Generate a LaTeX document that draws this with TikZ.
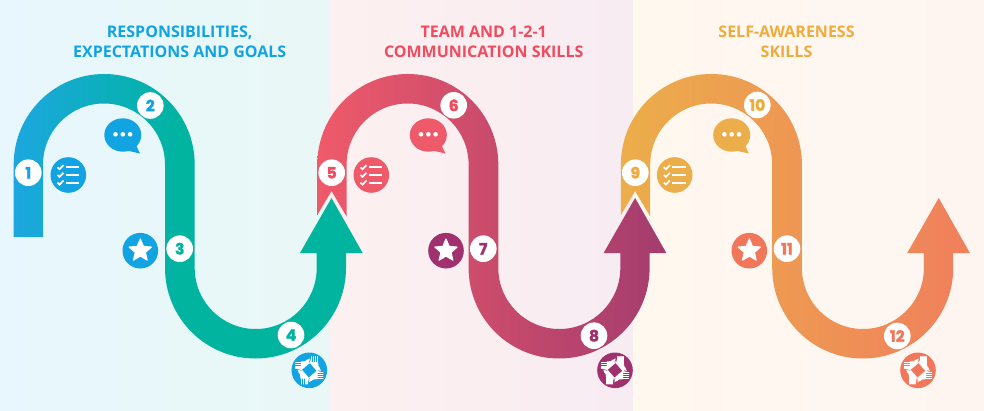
\documentclass[tikz,border=0pt]{standalone}
\usepackage{fontspec}
\newfontfamily\titlefont{Open Sans}
\newfontfamily\numfont[BoldFeatures={FakeBold=2}]{Poppins}
\usetikzlibrary{shapes.geometric}
\definecolor{bgA}{HTML}{E7F7FD}\definecolor{bgB}{HTML}{E9F8F6}
\definecolor{bgC}{HTML}{FDF0F0}\definecolor{bgD}{HTML}{F7ECF2}
\definecolor{bgE}{HTML}{FFF8EF}\definecolor{bgF}{HTML}{FEF5F1}
\definecolor{blueC}{HTML}{12A3E2}\definecolor{tealC}{HTML}{00B4A0}
\definecolor{redC}{HTML}{EF5A6A}\definecolor{plumC}{HTML}{A0306E}
\definecolor{goldC}{HTML}{ECAE4A}\definecolor{coralC}{HTML}{F2765A}
\definecolor{rA}{HTML}{1CA7E0}
\definecolor{rB}{HTML}{A33C6E}
\definecolor{rC}{HTML}{F07F5C}
\definecolor{tRed}{HTML}{F04B5F}\definecolor{tGold}{HTML}{EFAC3D}
\pgfdeclarehorizontalshading{ribA}{100bp}{color(0bp)=(rA); color(25bp)=(rA); color(49bp)=(tealC); color(100bp)=(tealC)}
\pgfdeclarehorizontalshading{ribB}{100bp}{color(0bp)=(redC); color(25bp)=(redC); color(75bp)=(rB); color(100bp)=(rB)}
\pgfdeclarehorizontalshading{ribC}{100bp}{color(0bp)=(goldC); color(25bp)=(goldC); color(75bp)=(rC); color(100bp)=(rC)}
\tikzset{
  x=1pt,y=1pt,
  badge/.style={circle,fill=white,minimum size=26.6pt,inner sep=0pt,font=\numfont\bfseries\fontsize{15.5}{15.5}\selectfont},
  heading/.style={align=center,font=\titlefont\bfseries\fontsize{16}{20}\selectfont},
}
% ribbon: #1 x shift, #2 shading, #3 start of the outline
\newcommand{\ribbon}[3]{%
  \shade[shading=#2,shift={(#1,0)}] #3 -- (43,245.5) arc[start angle=180,end angle=0,radius=61]
    -- (165,142) arc[start angle=180,end angle=360,radius=90.5]
    -- (346,157) -- (362.7,157) -- (331.5,212) -- (300,157) -- (316.7,157) -- (316.7,142)
    arc[start angle=0,end angle=-180,radius=61]
    -- (194.7,245.5) arc[start angle=0,end angle=180,radius=90.5] -- cycle;}
\newcommand{\listicon}[3]{%
  \begin{scope}[shift={(#1,#2)}]
    \fill[#3] (0,0) circle[radius=17.8];
    \foreach \yy in {7.7,0,-7.7}{
      \draw[white,line width=1.7pt] (-10.8,\yy) -- (-8.8,\yy-1.9) -- (-4.8,\yy+2.2);
      \draw[white,line width=1.8pt] (-2.4,\yy) -- (11,\yy);
    }
  \end{scope}}
\newcommand{\bubbleicon}[3]{%
  \begin{scope}[shift={(#1,#2)}]
    \fill[#3] (0,0) ellipse[x radius=18.5,y radius=16.7];
    \fill[#3] (5,-15.7) -- (17.2,-18.5) -- (12.2,-8) -- cycle;
    \foreach \xx in {-7.3,0,7.3}{\fill[white] (\xx,0.7) circle[radius=2.3];}
  \end{scope}}
\newcommand{\staricon}[3]{%
  \begin{scope}[shift={(#1,#2)}]
    \fill[#3] (0,0) circle[radius=17.8];
    \fill[white,draw=white,line width=1pt,line join=round]
      (90:11.8) -- (126:5.4) -- (162:11.8) -- (198:5.4) -- (234:11.8) -- (270:5.4) -- (306:11.8) -- (342:5.4) -- (18:11.8) -- (54:5.4) -- cycle;
  \end{scope}}
\newcommand{\handsicon}[3]{%
  \begin{scope}[shift={(#1,#2)}]
    \fill[#3] (0,0) circle[radius=17.8];
    \foreach \rr in {0,90,180,270}{
      \begin{scope}[rotate=\rr]
        % palm and forearm of one hand, lying along the central diamond
        \fill[white] (-1,10) -- (1.2,8.2) -- (8.8,8.2) -- (9.2,4.4) -- (12,-0.8) -- (8.6,-1.6) -- (0,6) -- cycle;
        \foreach \xx in {2.2,4.1,6,7.9}{\draw[white,line width=1.3pt,line cap=round] (\xx,7.5) -- (\xx,13.6);}
        \draw[white,line width=1.3pt,line cap=round] (1.6,6.5) -- (-2.2,10.2);
        % gap between two neighbouring hands
        \draw[#3,line width=0.5pt] (7.6,0.2) -- (12.6,-1.2);
      \end{scope}}
    \fill[#3] (0.6,7.1) -- (7.1,-0.6) -- (-0.6,-7.1) -- (-7.1,0.6) -- cycle;
  \end{scope}}
\begin{document}
\begin{tikzpicture}
\useasboundingbox (0,0) rectangle (984,410);
% panels
\shade[left color=bgA,right color=bgB] (0,0) rectangle (330,410);
\shade[left color=bgC,right color=bgD] (330,0) rectangle (633.3,410);
\shade[left color=bgE,right color=bgF] (633.3,0) rectangle (984,410);
% ribbons
\ribbon{0}{ribA}{(13.7,173) -- (43,173)}
\ribbon{303.6}{ribB}{(13.7,195) -- (27.9,219) -- (43,193.5)}
\ribbon{607.2}{ribC}{(13.7,195) -- (27.9,219) -- (43,193.5)}
% titles
\node[heading,text=blueC] (t1) at (179.7,368.3) {RESPONSIBILITIES,\\EXPECTATIONS AND GOALS};
\node[heading,text=tRed] (t2) at (483.7,368.3) {TEAM AND 1-2-1\\COMMUNICATION SKILLS};
\node[heading,text=tGold] (t3) at (786.5,368.3) {SELF-AWARENESS\\SKILLS};
% icons
\listicon{68.3}{235}{blueC}
\listicon{371.3}{235}{redC}
\listicon{674.7}{235}{goldC}
\bubbleicon{122.8}{275}{blueC}
\bubbleicon{428.3}{275}{redC}
\bubbleicon{731.7}{275}{goldC}
\staricon{140.3}{159.3}{blueC}
\staricon{446}{159.3}{plumC}
\staricon{749.3}{159.3}{coralC}
\handsicon{309.3}{39.7}{blueC}
\handsicon{615}{39.7}{plumC}
\handsicon{918}{39.7}{coralC}
% badges
\node[badge,text=blueC] (n1) at (28.3,237.3) {1};
\node[badge,text=blueC] (n2) at (150.3,304.5) {2};
\node[badge,text=tealC] (n3) at (179.7,161.3) {3};
\node[badge,text=tealC] (n4) at (291,75) {4};
\node[badge,text=tRed] (n5) at (331.7,237.3) {5};
\node[badge,text=tRed] (n6) at (453.7,304.7) {6};
\node[badge,text=plumC] (n7) at (483.3,161.3) {7};
\node[badge,text=plumC] (n8) at (594,74.3) {8};
\node[badge,text=tGold] (n9) at (635.3,237.3) {9};
\node[badge,text=tGold] (n10) at (757.3,305) {10};
\node[badge,text=coralC] (n11) at (787,161.3) {11};
\node[badge,text=coralC] (n12) at (897.3,74) {12};
\end{tikzpicture}
\end{document}
